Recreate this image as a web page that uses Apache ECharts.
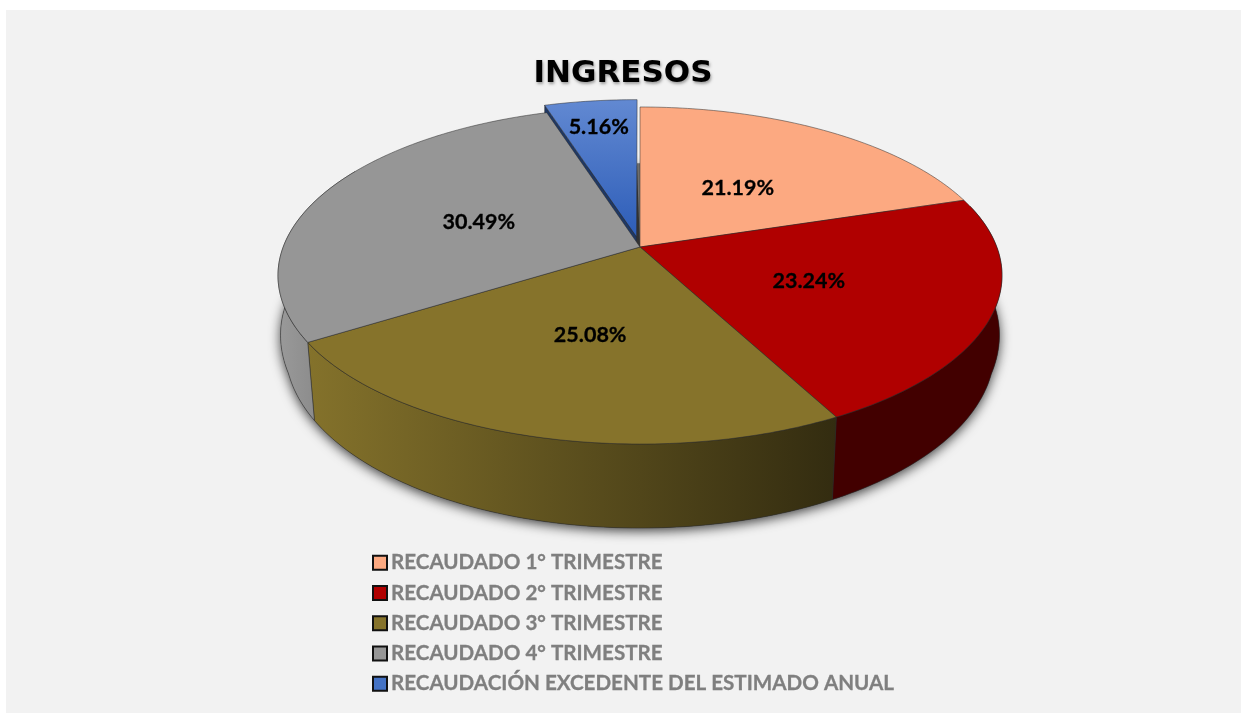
<!DOCTYPE html>
<html>
<head>
<meta charset="utf-8">
<title>INGRESOS</title>
<script src="https://cdn.jsdelivr.net/npm/echarts@6/dist/echarts.min.js"></script>
<style>
html,body{margin:0;padding:0;background:#fff}
#chart{width:1241px;height:713px}
</style>
</head>
<body>
<div id="chart"></div>
<script>
// datos
var categorias = ['RECAUDADO 1° TRIMESTRE','RECAUDADO 2° TRIMESTRE','RECAUDADO 3° TRIMESTRE','RECAUDADO 4° TRIMESTRE','RECAUDACIÓN EXCEDENTE DEL ESTIMADO ANUAL'];
var valores = [21.19, 23.24, 25.08, 30.49, 5.16];
var separados = [0, 0, 0, 0, 0.0625];
var colores = ['#FCA981','#B00000','#86732B','#969696','#4472C4'];

var total = valores.reduce(function(a,b){return a+b},0);
var inicio = [];
valores.reduce(function(acum,v,i){ inicio[i] = acum/total*360; return acum+v },0);

// perspectiva del disco: centro visible en (640,247)
var cx = 640, cy = 247, radioX = 356.8, radioY = 163.7, persp = 0.1691;

function proyecta(x,t,abajo){
	var d = 1+persp*t;
	var sx = radioX*x/d, sy = -radioY*t/d;
	if(abajo){ //borde inferior, un poco mas chico al frente
		var s = t>-0.3 ? 0.98+(t+0.3)*0.077 : 0.98;
		return [cx+sx*s, cy+sy+71.3-12.7*t];
	}
	return [cx+sx, cy+sy];
}
function borde(a1,a2,sep,mid,abajo){
	var pts = [], n = Math.max(2,Math.ceil(Math.abs(a2-a1)));
	var ox = Math.sin(mid*Math.PI/180)*sep, ot = Math.cos(mid*Math.PI/180)*sep;
	for(var k=0;k<=n;k++){
		var a = (a1+(a2-a1)*k/n)*Math.PI/180;
		pts.push(proyecta(ox+Math.sin(a),ot+Math.cos(a),abajo));
	}
	return pts;
}
function paredColor(i){
	if(i==2) return {type:'linear',x:308,y:0,x2:836,y2:0,global:true,colorStops:[{offset:0,color:'#84722B'},{offset:1,color:'#332C10'}]};
	if(i==3) return {type:'linear',x:278,y:0,x2:320,y2:0,global:true,colorStops:[{offset:0,color:'#9A9A9A'},{offset:1,color:'#8A8A8A'}]};
	if(i==1) return '#420000';
	return '#555';
}
function dibujaRebanada(i){
	var a1 = inicio[i], a2 = i<valores.length-1 ? inicio[i+1] : 360;
	var mid = (a1+a2)/2, sep = separados[i];
	var ox = Math.sin(mid*Math.PI/180)*sep, ot = Math.cos(mid*Math.PI/180)*sep;
	var centro = proyecta(ox,ot);
	var hijos = [];
	var linea = {stroke:'#2b2b2b',lineWidth:0.5};

	// pared frontal
	var p1 = Math.max(a1,75), p2 = Math.min(a2,300);
	if(p2>p1){
		var arriba = borde(p1,p2,sep,mid), abajo = borde(p1,p2,sep,mid,true).reverse();
		hijos.push({type:'polygon',shape:{points:arriba.concat(abajo)},style:{fill:paredColor(i),stroke:linea.stroke,lineWidth:linea.lineWidth}});
	}
	// cara del corte de la rebanada separada
	if(sep>0){
		var esq = borde(a1,a1+1,sep,mid)[0];
		var esqB = [esq[0],esq[1]+58], cenB = [centro[0],centro[1]+58];
		hijos.push({type:'polygon',shape:{points:[centro,esq,esqB,cenB]},style:{fill:'#1F3864',stroke:linea.stroke,lineWidth:linea.lineWidth}});
		// hueco entre la rebanada y el centro
		hijos.push({type:'polygon',shape:{points:[proyecta(0,0),proyecta(0,0.56),proyecta(ox+Math.sin(a2*Math.PI/180),0.56)]},style:{fill:'#6E6E6E'}});
	}
	// cara superior
	var relleno = colores[i];
	if(sep>0){
		relleno = {type:'linear',x:0,y:0,x2:0,y2:1,colorStops:[{offset:0,color:'#6289D2'},{offset:1,color:'#2D5DB8'}]};
	}
	hijos.push({type:'polygon',shape:{points:[centro].concat(borde(a1,a2,sep,mid))},style:{fill:relleno,stroke:linea.stroke,lineWidth:linea.lineWidth}});

	// etiqueta
	var r = sep>0 ? 0.80 : 0.495;
	var pos = proyecta(ox+Math.sin(mid*Math.PI/180)*r,ot+Math.cos(mid*Math.PI/180)*r);
	hijos.push({type:'text',z2:10,style:{text:valores[i].toFixed(2)+'%',x:pos[0],y:pos[1]+2.5,align:'center',verticalAlign:'middle',fill:'#000',stroke:'#000',lineWidth:0.3,font:'bold 21.5px Lato'}});
	return {type:'group',children:hijos};
}

var orden = [4,0,1,2,3]; //la azul primero, el gris tapa su corte
var series = [{
	name:'sombra',
	type:'custom',
	coordinateSystem:'none',
	silent:true,
	data:[[0]],
	renderItem:function(){
		return {type:'polygon',shape:{points:borde(0,360,0,0,true)},style:{fill:'#333',shadowBlur:12,shadowColor:'rgba(0,0,0,0.75)',shadowOffsetX:0,shadowOffsetY:3}};
	}
}];
orden.forEach(function(i){
	series.push({
		name:categorias[i],
		type:'custom',
		coordinateSystem:'none',
		itemStyle:{color:colores[i]},
		data:[[valores[i]]],
		renderItem:function(){ return dibujaRebanada(i) }
	});
});

var chart = echarts.init(document.getElementById('chart'));
var option = {
	animation:false,
	backgroundColor:'#fff',
	title:{
		text:'INGRESOS',
		left:618,
		top:69,
		textAlign:'center',
		textVerticalAlign:'middle',
		textStyle:{
			fontFamily:'DejaVu Sans',
			fontWeight:'bold',
			fontSize:31,
			color:'#000',
			textShadowColor:'rgba(0,0,0,0.35)',
			textShadowBlur:3,
			textShadowOffsetX:1,
			textShadowOffsetY:2
		}
	},
	legend:{
		data:categorias,
		orient:'vertical',
		left:372,
		top:552,
		icon:'rect',
		itemWidth:14,
		itemHeight:14,
		itemGap:9,
		padding:0,
		selectedMode:false,
		itemStyle:{borderColor:'#111',borderWidth:2},
		textStyle:{
			fontFamily:'Lato',
			fontWeight:'bold',
			fontSize:20.6,
			color:'#7F7F7F',
			textBorderColor:'#7F7F7F',
			textBorderWidth:0.3,
			padding:[0,0,0,-1],
			lineHeight:17
		}
	},
	graphic:[{type:'rect',z:-10,silent:true,shape:{x:6,y:10,width:1235,height:703},style:{fill:'#F2F2F2'}}],
	series:series
};
chart.setOption(option);
</script>
</body>
</html>
